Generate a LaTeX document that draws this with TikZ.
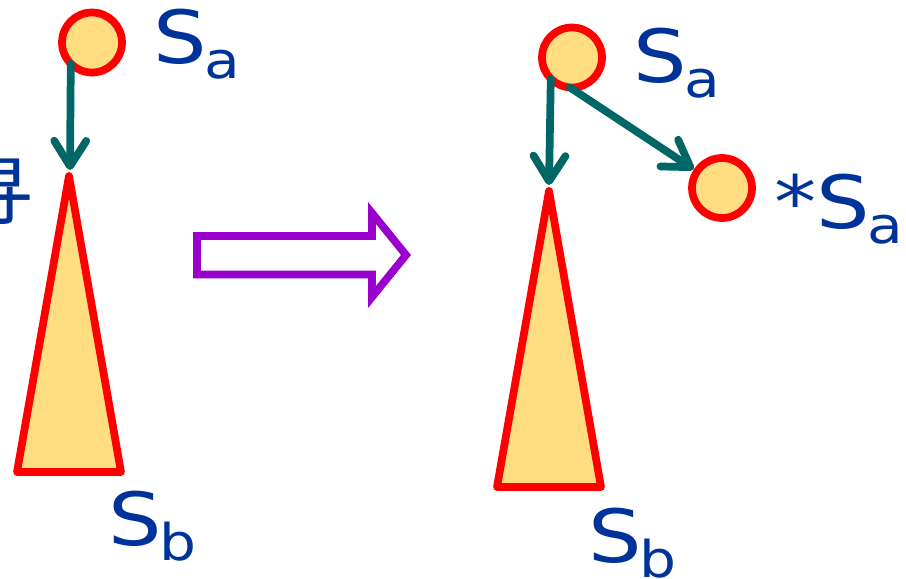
\documentclass[tikz,border=0pt]{standalone}
\usepackage{fontspec}
\setmainfont{DejaVu Sans}[FakeStretch=1.15]
\newfontfamily\cjkfont{Noto Sans CJK SC}
\usetikzlibrary{arrows.meta}
\definecolor{txtblue}{RGB}{0,51,153}
\definecolor{nodered}{RGB}{255,0,0}
\definecolor{nodefill}{RGB}{255,221,128}
\definecolor{linkteal}{RGB}{0,102,102}
\definecolor{bigarrow}{RGB}{153,0,204}
\newcommand\subtxt[2]{{\fontsize{55}{60}\selectfont #1\kern-1.5pt\raisebox{-11.25pt}{\fontsize{38}{40}\selectfont #2}}}
\begin{document}
\begin{tikzpicture}[x=0.75pt,y=-0.75pt,
  treenode/.style={circle,draw=nodered,fill=nodefill,line width=5.8pt,minimum size=45pt,inner sep=0pt,outer sep=0pt},
  subtree/.style={draw=nodered,fill=nodefill,line width=5.8pt,line join=round},
  link/.style={draw=linkteal,line width=5.8pt,line cap=round,-{Straight Barb[length=19pt,width=24pt,round]}},
  lbl/.style={text=txtblue,inner sep=0pt,anchor=base west},
  hollow/.style={draw=bigarrow,line width=5.8pt,line join=miter}]
\clip (0,0) rectangle (906,578);
% partially visible text at left edge
\node[text=txtblue,inner sep=0pt,anchor=base east] (cut) at (34,219) {\cjkfont\fontsize{57}{60}\selectfont 寻};
% left subtree
\coordinate (apexL) at (69,176);
\coordinate (blL) at (17,472);
\coordinate (brL) at (121,472);
\path[subtree] (apexL) -- (brL) -- (blL) -- cycle;
\node[treenode] (saL) at (92,42.5) {};
\draw[link] (saL.225) -- (70,170) coordinate (tipL);
\node[lbl] (lsaL) at (153,63) {\subtxt{S}{a}};
\node[lbl] (lsbL) at (108,545) {\subtxt{S}{b}};
% hollow arrow
\coordinate (h1) at (197,236);
\coordinate (h2) at (372,236);
\coordinate (h3) at (372,213);
\coordinate (h4) at (406,255);
\coordinate (h5) at (372,297);
\coordinate (h6) at (372,274.5);
\coordinate (h7) at (197,274.5);
\draw[hollow] (h1) -- (h2) -- (h3) -- (h4) -- (h5) -- (h6) -- (h7) -- cycle;
% right subtree
\coordinate (apexR) at (549,191);
\coordinate (blR) at (497,487);
\coordinate (brR) at (601,487);
\path[subtree] (apexR) -- (brR) -- (blR) -- cycle;
\node[treenode] (saR) at (572,57.5) {};
\node[treenode] (star) at (722,188) {};
\draw[link] (saR.225) -- (549,185) coordinate (tipR);
\draw[link,shorten >=3pt] (saR.266) -- (star);
\node[lbl] (lsaR) at (633,82) {\subtxt{S}{a}};
\node[lbl] (lstar) at (774,228) {\subtxt{*S}{a}};
\node[lbl] (lsbR) at (588,562) {\subtxt{S}{b}};
\end{tikzpicture}
\end{document}
